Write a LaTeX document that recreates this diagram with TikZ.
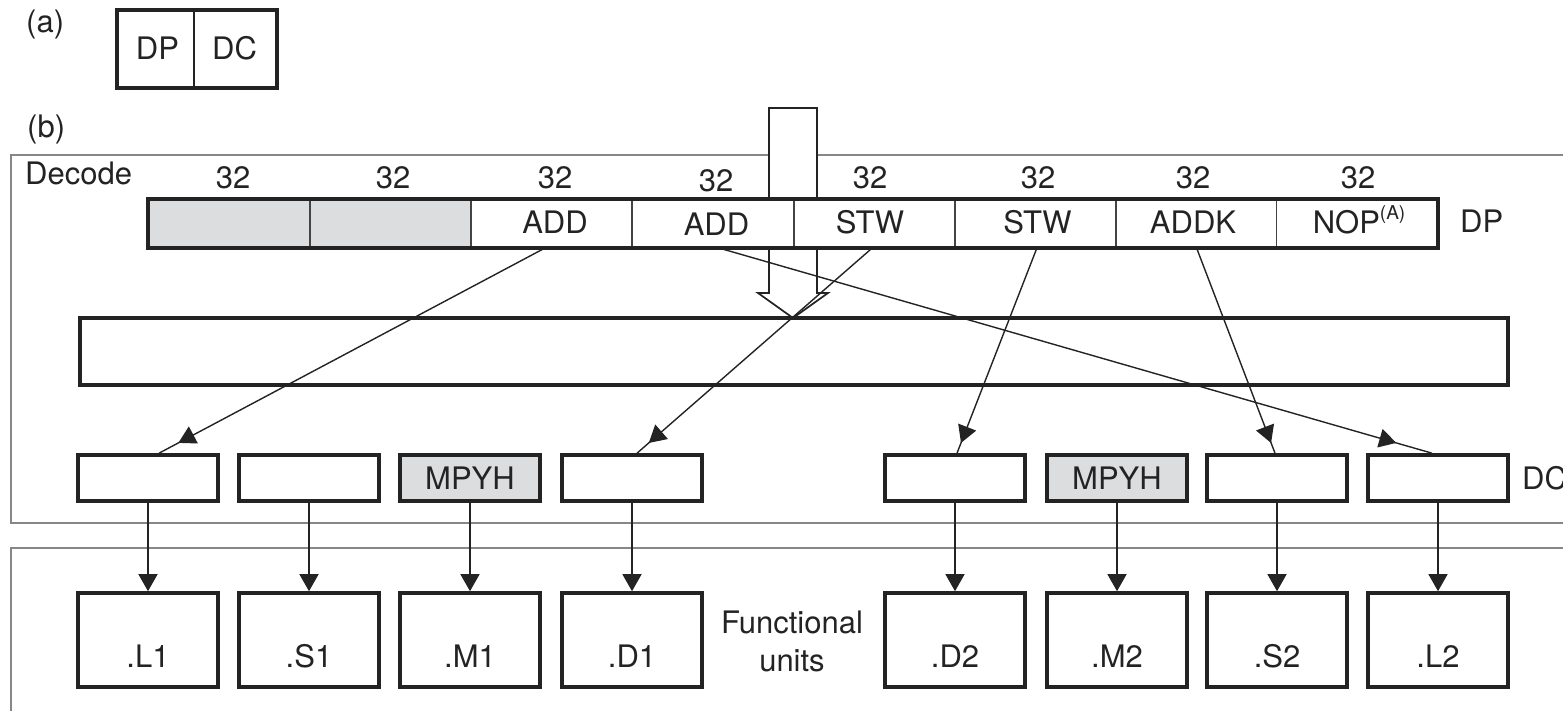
\documentclass[tikz,border=0pt]{standalone}
\usepackage{fontspec}
\setmainfont{TeX Gyre Heros}
\usetikzlibrary{arrows.meta,calc,decorations.markings}
\definecolor{cellgray}{RGB}{220,221,223}
\definecolor{framegray}{RGB}{135,135,135}
\definecolor{ink}{RGB}{35,35,35}

\begin{document}
\begin{tikzpicture}[x=1pt,y=-1pt,
  txt/.style={font=\fontsize{31}{38}\selectfont, text=ink, inner sep=0pt},
  frame/.style={draw=framegray, line width=2pt},
  heavy/.style={draw=ink, line width=3.6pt},
  cell/.style={draw=ink!85, line width=1.5pt, minimum width=161pt, minimum height=47pt, inner sep=0pt},
  halfbox/.style={minimum height=78pt, inner sep=0pt},
  dcbox/.style={heavy, fill=white, minimum width=140pt, minimum height=46pt, inner sep=0pt},
  fubox/.style={heavy, fill=white, minimum width=140pt, minimum height=94pt, inner sep=0pt},
  conn/.style={draw=ink, line width=1.4pt},
  tip/.style={-{Triangle[width=19pt,length=17pt]}},
  headat/.style={decoration={markings, mark=at position #1 with {\arrow{Triangle[width=19pt,length=17pt]}}}, postaction={decorate}},
]
\clip (0,0) rectangle (1563,711);

% ---------- (a) instruction packet split ----------
\node[txt, anchor=base west] (lbla) at (26,33) {(a)};
\node[halfbox, minimum width=77pt] (aDP) at (155.5,49) {};
\node[halfbox, minimum width=83pt] (aDC) at (235.5,49) {};
\draw[draw=ink, line width=1.5pt] (aDP.north east) -- (aDP.south east);
\draw[heavy] (aDP.north west) rectangle (aDC.south east);
\node[txt, anchor=base] at (157.5,60) {DP};
\node[txt, anchor=base] at (234.5,60) {DC};

% ---------- (b) decode stage ----------
\node[txt, anchor=base west] (lblb) at (27,138) {(b)};
\draw[frame] (11,155) rectangle (1620,523);
\draw[frame] (11,548) rectangle (1620,760);
\node[txt, anchor=base west] (decode) at (25,185) {Decode};

% incoming fetch packet (hollow arrow)
\draw[fill=white, draw=ink, line width=1.7pt, line join=miter]
  (769,108) -- (817,108) -- (817,293) -- (828,293) -- (793,318)
  -- (758,293) -- (769,293) -- cycle;

% DP: eight 32-bit slots
\foreach \i/\x/\f in {1/229/cellgray,2/390.5/cellgray,3/551.5/white,4/713/white,
                      5/874.5/white,6/1035.5/white,7/1196.5/white,8/1357/white}
  \node[cell, fill=\f] (dp\i) at (\x,223.5) {};
\draw[heavy] (dp1.north west) rectangle (dp8.south east);

\foreach \x/\y in {233/189,393/189,555/189,716/192,870/189,1038/189,1193/189,1358/189}
  \node[txt, anchor=base] at (\x,\y) {32};

\node[txt, anchor=base] at (555,234) {ADD};
\node[txt, anchor=base] at (716.5,236) {ADD};
\node[txt, anchor=base] at (870,234) {STW};
\node[txt, anchor=base] at (1037.5,234) {STW};
\node[txt, anchor=base] at (1193,234) {ADDK};
\node[txt, anchor=base] at (1359,234) {NOP\raisebox{14pt}{\fontsize{19}{20}\selectfont(A)}};
\node[txt, anchor=base west] (dplbl) at (1460,233) {DP};

% dispatch buffer
\draw[heavy] (80,318) rectangle (1508,385);
\coordinate (buf) at (794,351.5);

% DC: per-unit decode slots
\foreach \i/\x/\f in {1/148/white,2/309/white,3/470/cellgray,4/632/white,
                      5/955/white,6/1117/cellgray,7/1277/white,8/1438/white}
  \node[dcbox, fill=\f] (dc\i) at (\x,478) {};
\node[txt, anchor=base] at (470,489) {MPYH};
\node[txt, anchor=base] at (1117,489) {MPYH};
\node[txt, anchor=base west] (dclbl) at (1522,489) {DC};

% functional units
\foreach \i/\x/\n in {1/148/.L1,2/309/.S1,3/470/.M1,4/632/.D1,
                      5/955/.D2,6/1117/.M2,7/1277/.S2,8/1438/.L2}{
  \node[fubox] (fu\i) at (\x,640) {};
  \node[txt, anchor=base] at (\x,667) {\n};
}
\node[txt, align=center] (fulbl) at (792,641) {Functional\\units};

% routing of the slots to the units
\draw[conn, headat=0.95] ($(dp3.south)+(-6,0)$) -- ($(dc1.north)+(11,0)$);
\draw[conn, headat=0.95] ($(dp4.south)+(5,0)$) -- ($(dc8.north)+(-6,0)$);
\draw[conn, headat=0.95] ($(dp5.south)+(-2,0)$) -- ($(dc4.north)+(5,0)$);
\draw[conn, headat=0.95] ($(dp6.south)+(1.5,0)$) -- ($(dc5.north)+(2,0)$);
\draw[conn, headat=0.95] (dp7.south) -- ($(dc7.north)+(-2,0)$);

\foreach \i in {1,...,8}
  \draw[conn, tip] (dc\i.south) -- (fu\i.north);
\end{tikzpicture}
\end{document}
